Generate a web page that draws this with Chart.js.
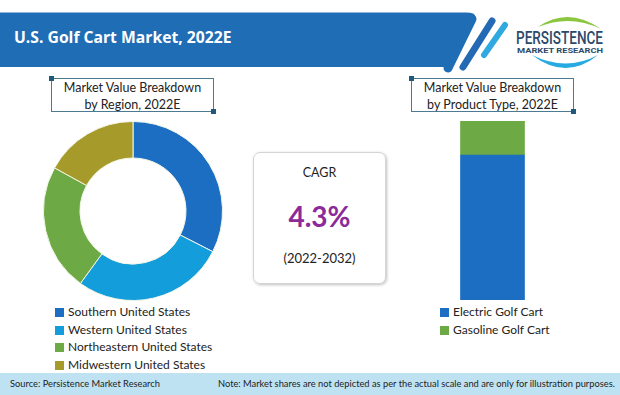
<!DOCTYPE html>
<html>
<head>
<meta charset="utf-8">
<script src="https://cdn.jsdelivr.net/npm/chart.js@4.4.0/dist/chart.umd.min.js"></script>
<style>
body{margin:0;width:620px;height:395px;position:relative;overflow:hidden;background:#fff;font-family:Lato,'Open Sans',sans-serif;color:#222}
.abs{position:absolute}
.title{left:14px;top:26px;color:#fff;font-family:'Open Sans',sans-serif;font-weight:700;font-size:15.7px;line-height:22px;white-space:nowrap}
.box{border:1px solid #4d7a92;text-align:center;font-size:12.5px;line-height:16.6px;color:#222;box-sizing:border-box;padding-top:1px}
.box:before,.box:after{content:'';position:absolute;width:5px;height:5px;background:#1f5a7b}
.box:before{left:-3px;top:-3px}
.box:after{right:-3px;bottom:-3px}
.cagr{left:253px;top:152px;width:133px;height:132px;border:1px solid #d4d4d4;border-radius:7px;box-shadow:1px 1px 3px rgba(0,0,0,.25);box-sizing:border-box}
.cagr div{position:absolute;left:0;width:100%;text-align:center}
.legend{font-size:12px;line-height:17.6px;color:#222}
.legend span{display:inline-block;width:9px;height:9px;margin-right:4px;vertical-align:-1px}
.foot{left:0;top:373px;width:620px;height:22px;background:#bfe2f3;font-size:9.3px;line-height:22px;color:#222}
</style>
</head>
<body>
<svg class="abs" style="left:0;top:0" width="620" height="80">
  <path d="M0 12.5 H466 Q479 12.5 474 21 L448 67 H0 Z" fill="#1f6db5"/>
  <line x1="472" y1="19" x2="448" y2="68" stroke="#1f6db5" stroke-width="9" stroke-linecap="round"/>
  <line x1="492" y1="21" x2="463" y2="67" stroke="#2369b3" stroke-width="7" stroke-linecap="round"/>
  <line x1="505" y1="25" x2="484" y2="55" stroke="#2fa9df" stroke-width="6" stroke-linecap="round"/>
  <path d="M538 27 Q568 6 601 29 Q570 14 538 27 Z" fill="#8cc63f"/>
  <text x="516" y="44" font-family="Roboto" font-weight="500" font-size="19" textLength="87" lengthAdjust="spacingAndGlyphs" fill="#2c4a6b">PERSISTENCE</text>
  <text x="517" y="52.5" font-family="Roboto" font-weight="700" font-size="7" textLength="86" lengthAdjust="spacingAndGlyphs" fill="#2c4a6b">MARKET RESEARCH</text>
  <path d="M532 55 Q566 81 598 55 Q566 72 532 55 Z" fill="#27a9e1"/>
</svg>
<div class="abs title">U.S. Golf Cart Market, 2022E</div>

<div class="abs box" style="left:51px;top:78px;width:163px;height:34px">Market Value Breakdown<br>by Region, 2022E</div>
<div class="abs box" style="left:411px;top:78px;width:163px;height:34px">Market Value Breakdown<br>by Product Type, 2022E</div>

<canvas id="donut" class="abs" style="left:43px;top:121px" width="180" height="180"></canvas>
<canvas id="bar" class="abs" style="left:411px;top:115px" width="163" height="185"></canvas>

<div class="abs cagr">
  <div style="top:12px;font-size:12.5px">CAGR</div>
  <div style="top:46px;font-size:28px;font-weight:700;color:#8b2a98">4.3%</div>
  <div style="top:97px;font-size:13px">(2022-2032)</div>
</div>

<div id="legend1" class="abs legend" style="left:55px;top:303px"></div>
<div id="legend2" class="abs legend" style="left:440px;top:303px"></div>

<div class="abs foot">
  <span class="abs" style="left:10px">Source: Persistence Market Research</span>
  <span class="abs" style="left:218px">Note: Market shares are not depicted as per the actual scale and are only for illustration purposes.</span>
</div>

<script>
// region split (doughnut)
const regionLabels = ['Southern United States', 'Western United States', 'Northeastern United States', 'Midwestern United States'];
const regionShares = [32.5, 27.5, 23, 17];
const regionColors = ['#1b6ec2', '#139dda', '#6da945', '#a59a2a'];

// product split (stacked bar)
const productCategory = ['2022E'];
const productLabels = ['Electric Golf Cart', 'Gasoline Golf Cart'];
const productShares = [81, 19];
const productColors = ['#1b6ec2', '#6da945'];

function buildLegend(id, labels, colors) {
	var html = '';
	for (var i = 0; i < labels.length; i++) {
		html += '<div><span style="background:' + colors[i] + '"></span>' + labels[i] + '</div>';
	}
	document.getElementById(id).innerHTML = html;
}
buildLegend('legend1', regionLabels, regionColors);
buildLegend('legend2', productLabels, productColors);

const donut = new Chart(document.getElementById('donut'), {
	type: 'doughnut',
	data: {
		labels: regionLabels,
		datasets: [{
			data: regionShares,
			backgroundColor: regionColors,
			borderColor: '#f2f6e6',
			borderWidth: 1
		}]
	},
	options: {
		responsive: false,
		animation: false,
		cutout: 53, // hole radius in px
		plugins: {
			legend: { display: false },
			tooltip: { enabled: false }
		}
	}
});

const bar = new Chart(document.getElementById('bar'), {
	type: 'bar',
	data: {
		labels: productCategory,
		datasets: productLabels.map(function(label, i) {
			return {
				label: label,
				data: [productShares[i]],
				backgroundColor: productColors[i],
				barThickness: 64
			};
		})
	},
	options: {
		responsive: false,
		animation: false,
		layout: { padding: { top: 6 } },
		scales: {
			x: {
				stacked: true,
				grid: { display: false, drawTicks: false },
				ticks: { display: false },
				border: { color: '#8a8a8a' }
			},
			y: {
				stacked: true,
				display: false,
				min: 0,
				max: 100
			}
		},
		plugins: {
			legend: { display: false },
			tooltip: { enabled: false }
		}
	}
});
</script>
</body>
</html>
